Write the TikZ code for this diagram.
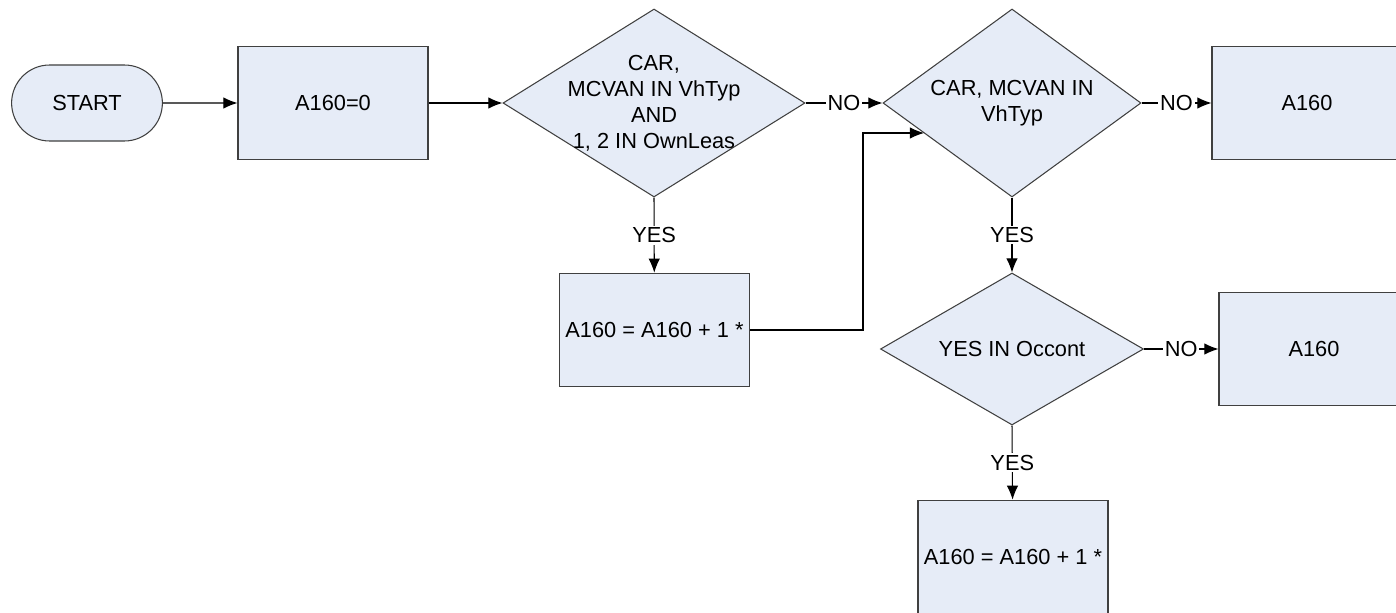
\documentclass[tikz,border=0pt]{standalone}
\usepackage{fontspec}
\setmainfont{Liberation Sans}
\usetikzlibrary{shapes.geometric,shapes.misc,arrows.meta}

\begin{document}
\begin{tikzpicture}[
    font=\fontsize{12.4}{14.8}\selectfont,
    line width=0.6pt,
    terminal/.style={draw=black!75, fill=flowfill, rounded rectangle, minimum width=3.0cm, minimum height=1.52cm},
    process/.style={draw=black!75, fill=flowfill, align=center, minimum width=3.8cm, minimum height=2.27cm},
    decision/.style={draw=black!75, fill=flowfill, diamond, align=center, inner sep=0pt, aspect=1.5},
    msg/.style={-{Latex[length=8pt,width=6.5pt]}},
    branch/.style={fill=white, inner sep=1pt}
]
\definecolor{flowfill}{RGB}{230,236,247}

\useasboundingbox (0,0) rectangle (27.92,-12.24);

% Top row
\node[terminal, minimum width=3.25cm] (start) at (1.74,-2.06) {START};
\node[process] (init) at (6.66,-2.06) {A160=0};
\node[decision, inner sep=-5pt, minimum width=6.04cm, minimum height=3.76cm] (chk1) at (13.08,-2.06)
    {CAR,\\MCVAN IN VhTyp\\AND\\1, 2 IN OwnLeas};
\node[decision, minimum width=5.16cm, minimum height=3.76cm] (chk2) at (20.24,-2.06)
    {CAR, MCVAN IN\\VhTyp};
\node[process] (out1) at (26.14,-2.06) {A160};

% Lower branches
\node[process] (inc1) at (13.09,-6.6) {A160 = A160 + 1 *};
\node[decision, minimum width=5.26cm, minimum height=3.04cm] (chk3) at (20.24,-6.98) {YES IN Occont};
\node[process] (out2) at (26.28,-6.98) {A160};
\node[process] (inc2) at (20.26,-11.14) {A160 = A160 + 1 *};

\coordinate (loop) at (17.26,-2.66);

% Connectors
\draw[msg] (start) -- (init);
\draw[msg] (init) -- (chk1);
\draw[msg] (chk1.east) -- node[branch]{NO} (chk2.west);
\draw[msg] (chk2.east) -- node[branch]{NO} (out1);
\draw[msg] (chk1.south) -- node[branch]{YES} (inc1);
\draw[msg] (inc1.east) -| (loop) -- (loop -| chk2.199);
\draw[msg] (chk2.south) -- node[branch]{YES} (chk3.north);
\draw[msg] (chk3.east) -- node[branch]{NO} (out2);
\draw[msg] (chk3.south) -- node[branch]{YES} (inc2);

\end{tikzpicture}
\end{document}
